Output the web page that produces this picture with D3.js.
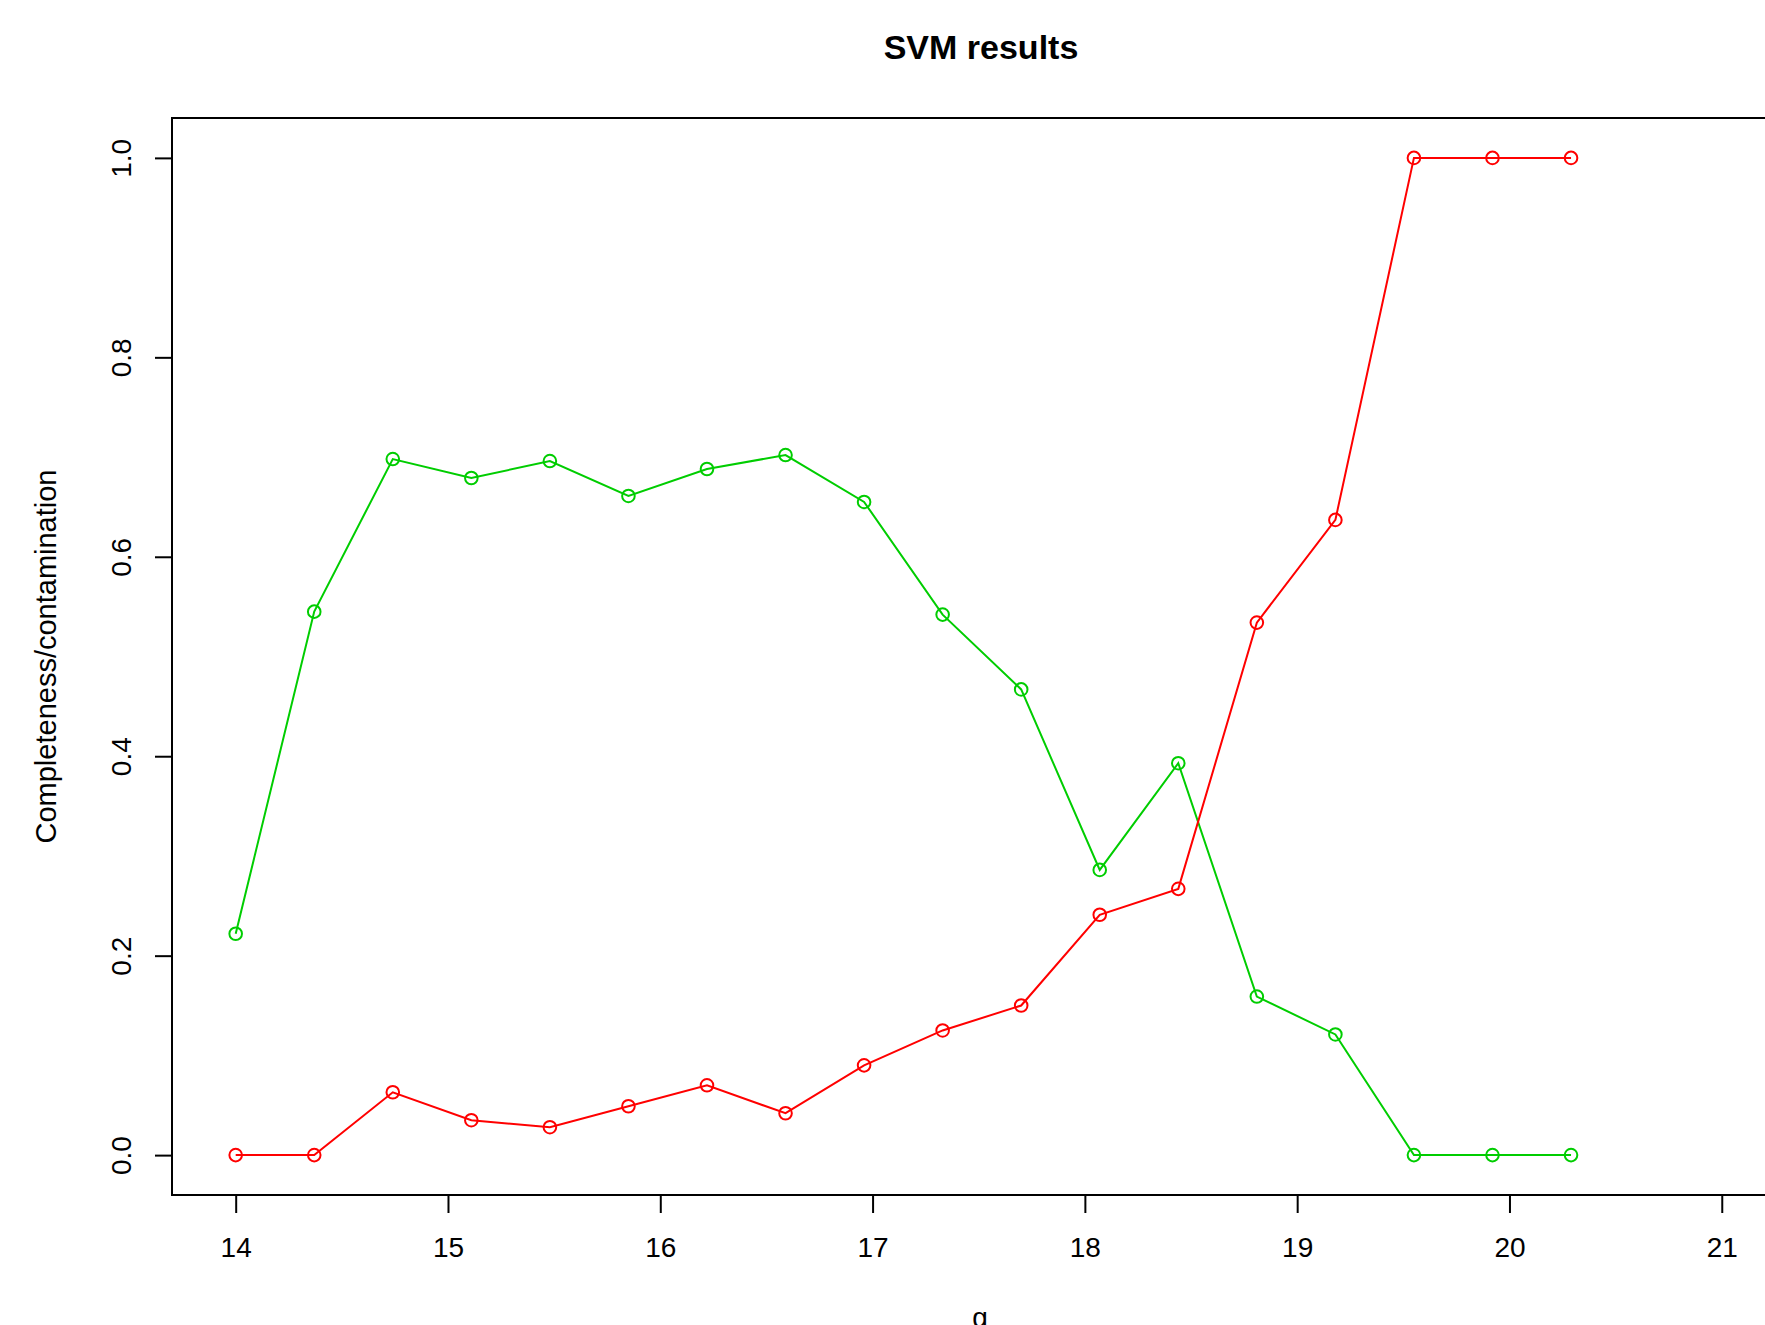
<!DOCTYPE html>
<html>

<head>
    <meta charset='utf-8'>
</head>
<style>
    body {
        margin: 0;
        background: #fff;
    }

    text {
        font-family: "Liberation Sans", Arial, Helvetica, sans-serif;
        fill: #000;
    }

    .frame {
        fill: none;
        stroke: #000;
        stroke-width: 2px;
    }

    .axis line,
    .axis path {
        stroke: #000;
        stroke-width: 2px;
    }
</style>

<body>
    <div id='chart'></div>
    <script src="https://d3js.org/d3.v7.min.js"></script>
    <script>
        // g magnitude bins
        var gMag = [14.00, 14.37, 14.74, 15.11, 15.48, 15.85, 16.22, 16.59, 16.96,
            17.33, 17.70, 18.07, 18.44, 18.81, 19.18, 19.55, 19.92, 20.29];

        // green line: completeness
        var completeness = [0.222, 0.545, 0.698, 0.679, 0.696, 0.661, 0.688, 0.702, 0.655,
            0.542, 0.467, 0.286, 0.393, 0.159, 0.121, 0.000, 0.000, 0.000];

        // red line: contamination
        var contamination = [0.000, 0.000, 0.063, 0.035, 0.028, 0.049, 0.070, 0.042, 0.090,
            0.125, 0.150, 0.241, 0.267, 0.534, 0.637, 1.000, 1.000, 1.000];

        var xTicks = [14, 15, 16, 17, 18, 19, 20, 21];
        var yTicks = [0, 0.2, 0.4, 0.6, 0.8, 1.0];

        var width = 1765;
        var height = 1325;

        var svg = d3.select('#chart')
            .append('svg')
            .attr('width', width)
            .attr('height', height);

        // plot region (right edge runs past the picture, as in the original)
        var plotLeft = 172, plotRight = 1788, plotTop = 118, plotBottom = 1195;

        var x = d3.scaleLinear().domain([13.7, 21.312]).range([plotLeft, plotRight]);
        var y = d3.scaleLinear().domain([-0.04, 1.04]).range([plotBottom, plotTop]);

        svg.append('rect')
            .attr('class', 'frame')
            .attr('x', plotLeft)
            .attr('y', plotTop)
            .attr('width', plotRight - plotLeft)
            .attr('height', plotBottom - plotTop);

        // x axis
        var xAxis = svg.append('g')
            .attr('class', 'axis')
            .attr('transform', 'translate(0,' + plotBottom + ')')
            .call(d3.axisBottom(x).tickValues(xTicks).tickSize(18).tickSizeOuter(0).tickFormat(d3.format('d')));
        xAxis.select('.domain').remove();
        xAxis.selectAll('text')
            .attr('y', 0)
            .attr('dy', null)
            .attr('transform', 'translate(0,62)')
            .style('font-size', '28px')
            .style('font-family', '"Liberation Sans", Arial, sans-serif');

        // y axis
        var yAxis = svg.append('g')
            .attr('class', 'axis')
            .attr('transform', 'translate(' + plotLeft + ',0)')
            .call(d3.axisLeft(y).tickValues(yTicks).tickSize(17).tickSizeOuter(0).tickFormat(d3.format('.1f')));
        yAxis.select('.domain').remove();
        yAxis.selectAll('.tick text')
            .attr('x', null)
            .attr('dy', null)
            .attr('text-anchor', 'middle')
            .attr('transform', 'translate(-41,0) rotate(-90)')
            .style('font-size', '28px')
            .style('font-family', '"Liberation Sans", Arial, sans-serif');

        // titles
        svg.append('text')
            .attr('x', 981)
            .attr('y', 59)
            .attr('text-anchor', 'middle')
            .style('font-size', '34px')
            .style('font-weight', 'bold')
            .text('SVM results');

        svg.append('text')
            .attr('x', (plotLeft + plotRight) / 2)
            .attr('y', 1327)
            .attr('text-anchor', 'middle')
            .style('font-size', '28px')
            .text('g');

        svg.append('text')
            .attr('transform', 'translate(56,' + (plotTop + plotBottom) / 2 + ') rotate(-90)')
            .attr('text-anchor', 'middle')
            .style('font-size', '29px')
            .text('Completeness/contamination');

        // series
        var series = [
            { name: 'completeness', values: completeness, color: '#00CD00' },
            { name: 'contamination', values: contamination, color: '#FF0000' }
        ];

        var line = d3.line()
            .x(function(d) { return x(d[0]); })
            .y(function(d) { return y(d[1]); });

        series.forEach(function(s) {
            var pts = gMag.map(function(g, i) { return [g, s.values[i]]; });

            svg.append('path')
                .datum(pts)
                .attr('d', line)
                .attr('fill', 'none')
                .attr('stroke', s.color)
                .attr('stroke-width', 2);

            svg.append('g')
                .selectAll('circle')
                .data(pts)
                .enter().append('circle')
                .attr('cx', function(d) { return x(d[0]); })
                .attr('cy', function(d) { return y(d[1]); })
                .attr('r', 6.3)
                .attr('fill', 'none')
                .attr('stroke', s.color)
                .attr('stroke-width', 2);
        });
    </script>
</body>

</html>
